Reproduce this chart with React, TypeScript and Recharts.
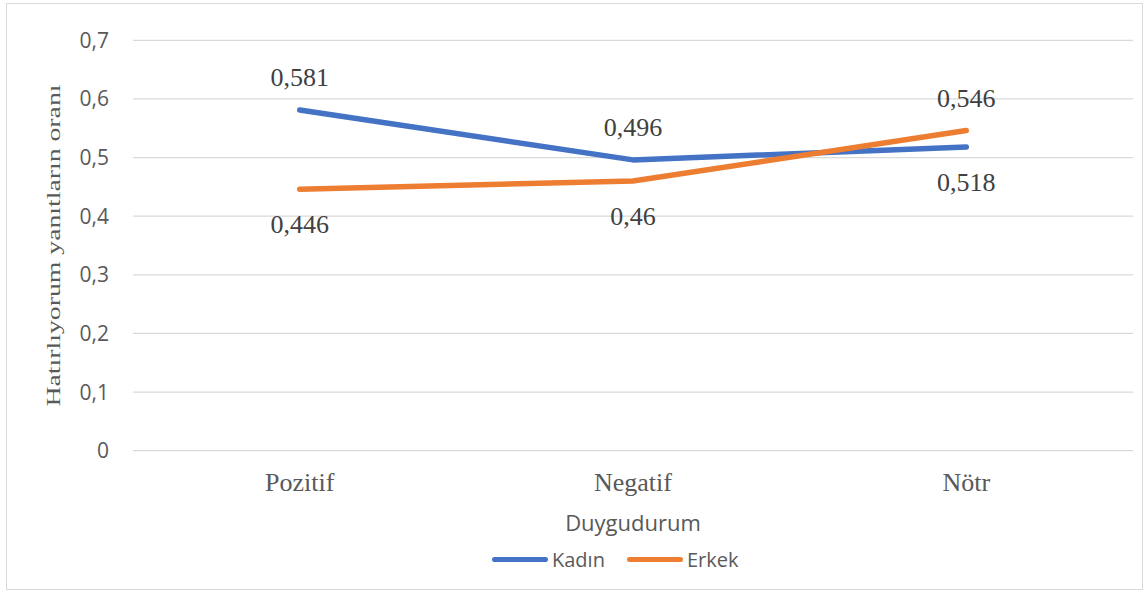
import { CartesianGrid, LabelList, Legend, Line, LineChart, XAxis, YAxis } from "recharts";

const categories = ["Pozitif", "Negatif", "Nötr"];
const kadin = [0.581, 0.496, 0.518];
const erkek = [0.446, 0.46, 0.546];
const yTicks = [0, 0.1, 0.2, 0.3, 0.4, 0.5, 0.6, 0.7];

// which side of the point each value label sits on
const kadinLabelSide = ["top", "top", "bottom"];
const erkekLabelSide = ["bottom", "bottom", "top"];

const BLUE = "#4472C4";
const ORANGE = "#ED7D31";
const SANS = "'Open Sans', sans-serif";
const SERIF = "'Liberation Serif', 'Times New Roman', serif";

const data = categories.map((name, i) => ({ name, kadin: kadin[i], erkek: erkek[i] }));

const fmt = (v: number) => String(v).replace(".", ",");

function makeLabel(sides: string[]) {
  return (props: any) => {
    const { x, y, value, index } = props;
    const up = sides[index] === "top";
    return (
      <text
        x={x}
        y={up ? y - 24 : y + 44}
        textAnchor="middle"
        fontFamily={SERIF}
        fontSize={26}
        fill="#404040"
      >
        {fmt(value)}
      </text>
    );
  };
}

function LegendBox() {
  const items = [
    { name: "Kadın", color: BLUE },
    { name: "Erkek", color: ORANGE },
  ];
  return (
    <div style={{ display: "flex", alignItems: "center", height: 40, gap: 22 }}>
      {items.map((it) => (
        <div key={it.name} style={{ display: "flex", alignItems: "center" }}>
          <span
            style={{ display: "inline-block", width: 56, height: 5, borderRadius: 3, background: it.color }}
          />
          <span style={{ marginLeft: 4, fontFamily: SANS, fontSize: 20, color: "#595959" }}>{it.name}</span>
        </div>
      ))}
    </div>
  );
}

export default function App() {
  return (
    <div style={{ position: "absolute", left: 0, top: 0, width: 1146, height: 592, background: "#fff" }}>
      <div
        style={{
          position: "absolute",
          left: 6,
          top: 3,
          width: 1137,
          height: 587,
          border: "1px solid #d9d9d9",
          boxSizing: "border-box",
        }}
      />
      <LineChart width={1146} height={592} data={data} margin={{ top: 40.3, right: 13, bottom: 13, left: 0 }}>
        <CartesianGrid horizontal vertical={false} stroke="#d9d9d9" strokeWidth={1.3} />
        <XAxis
          dataKey="name"
          axisLine={false}
          tickLine={false}
          tickSize={0}
          tickMargin={22}
          height={88.3}
          padding={{ left: 166.7, right: 166.7 }}
          tick={{ fontFamily: SERIF, fontSize: 26, fill: "#595959" }}
          label={{
            content: (p: any) => {
              const vb = p.viewBox;
              return (
                <text
                  x={633}
                  y={vb.y + 80}
                  textAnchor="middle"
                  fontFamily={SANS}
                  fontSize={22}
                  fill="#595959"
                >
                  Duygudurum
                </text>
              );
            },
          }}
        />
        <YAxis
          domain={[0, 0.7]}
          ticks={yTicks}
          width={133}
          axisLine={false}
          tickLine={false}
          tickSize={0}
          tickMargin={24}
          tickFormatter={(v: number) => (v === 0 ? "0" : v.toFixed(1).replace(".", ","))}
          tick={{ fontFamily: SANS, fontSize: 21, fill: "#595959" }}
          label={{
            content: (p: any) => {
              const vb = p.viewBox;
              const cy = vb.y + vb.height / 2;
              return (
                <text
                  x={60}
                  y={cy}
                  transform={`rotate(-90, 60, ${cy})`}
                  textAnchor="middle"
                  fontFamily={SERIF}
                  fontSize={18}
                  fill="#595959"
                  textLength={322}
                  lengthAdjust="spacingAndGlyphs"
                >
                  Hatırlıyorum yanıtların oranı
                </text>
              );
            },
          }}
        />
        <Line
          type="linear"
          dataKey="kadin"
          name="Kadın"
          stroke={BLUE}
          strokeWidth={5.5}
          strokeLinecap="round"
          strokeLinejoin="round"
          dot={false}
          activeDot={false}
          isAnimationActive={false}
        >
          <LabelList dataKey="kadin" content={makeLabel(kadinLabelSide)} />
        </Line>
        <Line
          type="linear"
          dataKey="erkek"
          name="Erkek"
          stroke={ORANGE}
          strokeWidth={5.5}
          strokeLinecap="round"
          strokeLinejoin="round"
          dot={false}
          activeDot={false}
          isAnimationActive={false}
        >
          <LabelList dataKey="erkek" content={makeLabel(erkekLabelSide)} />
        </Line>
        <Legend
          verticalAlign="bottom"
          content={() => <LegendBox />}
          wrapperStyle={{ left: 492, bottom: 13, width: 260, height: 40 }}
        />
      </LineChart>
    </div>
  );
}
